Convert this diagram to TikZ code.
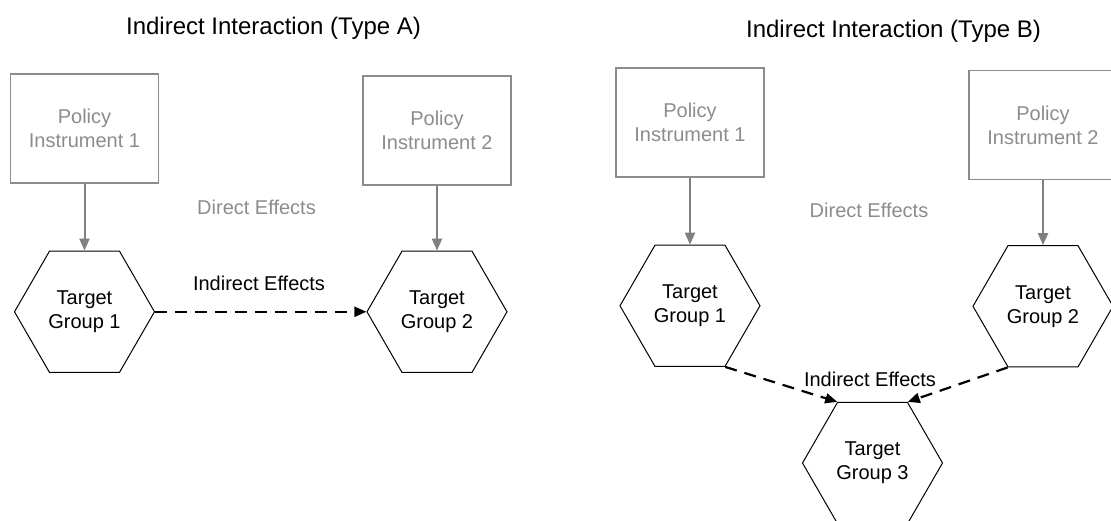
\documentclass[tikz,border=0pt]{standalone}
\usepackage{fontspec}
\setmainfont{Liberation Sans}
\usetikzlibrary{shapes.geometric, arrows.meta, positioning}
\definecolor{instgray}{RGB}{140,140,140}
\definecolor{effgray}{RGB}{128,128,128}

\begin{document}
\begin{tikzpicture}[
  font=\fontsize{20}{24}\selectfont,
  inst/.style={draw=instgray, line width=1.3pt, text=instgray, align=center, inner sep=0pt, minimum width=148pt, minimum height=109pt},
  tgroup/.style={draw, line width=1pt, regular polygon, regular polygon sides=6, minimum size=140pt, inner sep=0pt, align=center},
  heading/.style={font=\fontsize{24}{28}\selectfont, anchor=base},
  directfx/.style={draw=effgray, line width=2pt, -{Triangle[length=12pt,width=10pt]}},
  indirectfx/.style={line width=2.2pt, dash pattern=on 12pt off 8pt, -{Triangle[length=12pt,width=10pt]}}]
\useasboundingbox (0,0) rectangle (1111pt,-521pt);

% type A
\node[heading] (titlea) at (273.5pt,-35pt) {Indirect Interaction (Type A)};
\node[inst] (pol1a) at (84.5pt,-128.5pt) {Policy\\Instrument 1};
\node[inst] (pol2a) at (437pt,-130.5pt) {Policy\\Instrument 2};
\node[tgroup, below=67pt of pol1a] (tgt1a) {Target\\Group 1};
\node[tgroup, below=65pt of pol2a] (tgt2a) {Target\\Group 2};
\node[text=instgray] (dira) at (256.5pt,-207.5pt) {Direct Effects};
\node (inda) at (259pt,-283.5pt) {Indirect Effects};
\draw[directfx] (pol1a.south) -- (tgt1a.north);
\draw[directfx] (pol2a.south) -- (tgt2a.north);
\draw[indirectfx] (tgt1a.east) -- (tgt2a.west);

% type B
\node[heading] (titleb) at (893.5pt,-38pt) {Indirect Interaction (Type B)};
\node[inst] (pol1b) at (690pt,-122.5pt) {Policy\\Instrument 1};
\node[inst] (pol2b) at (1043pt,-125pt) {Policy\\Instrument 2};
\node[tgroup, below=67pt of pol1b] (tgt1b) {Target\\Group 1};
\node[tgroup, below=65pt of pol2b] (tgt2b) {Target\\Group 2};
\node[tgroup] (tgt3b) at (872.5pt,-463pt) {Target\\Group 3};
\node[text=instgray] (dirb) at (869pt,-210pt) {Direct Effects};
\node (indb) at (870pt,-379pt) {Indirect Effects};
\draw[directfx] (pol1b.south) -- (tgt1b.north);
\draw[directfx] (pol2b.south) -- (tgt2b.north);
\draw[indirectfx] (tgt1b.-60) -- (tgt3b.120);
\draw[indirectfx] (tgt2b.-120) -- (tgt3b.60);
\end{tikzpicture}
\end{document}
